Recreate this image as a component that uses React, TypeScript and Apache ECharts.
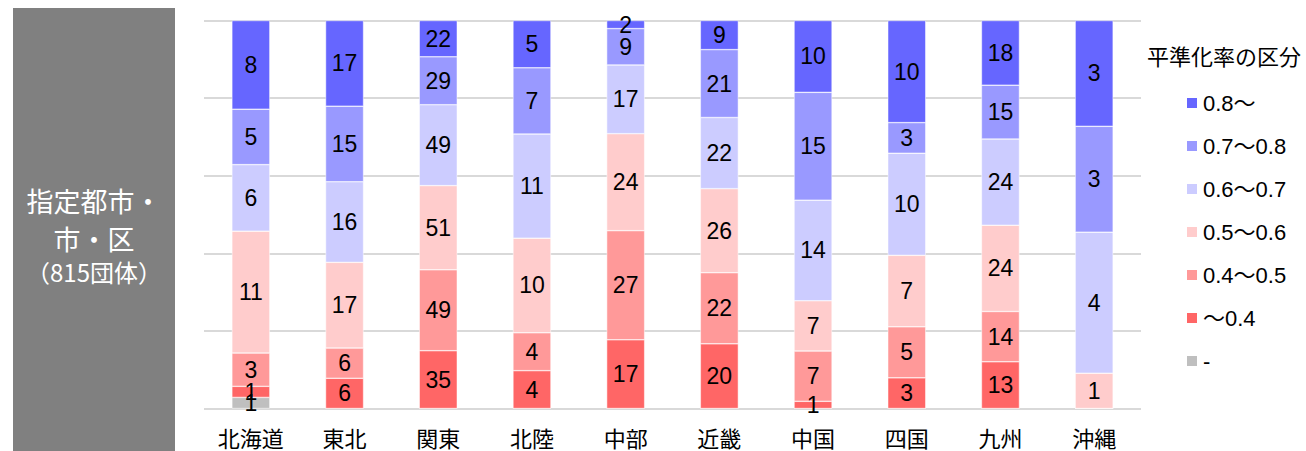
import React, { useEffect, useRef } from "react";
import * as echarts from "echarts";

const categories = ["北海道", "東北", "関東", "北陸", "中部", "近畿", "中国", "四国", "九州", "沖縄"];
const seriesNames = ["-", "～0.4", "0.4～0.5", "0.5～0.6", "0.6～0.7", "0.7～0.8", "0.8～"];
const seriesColors = ["#bfbfbf", "#ff6666", "#ff9999", "#ffcccc", "#ccccff", "#9999ff", "#6666ff"];

const dash = [1, 0, 0, 0, 0, 0, 0, 0, 0, 0];
const under04 = [1, 6, 35, 4, 17, 20, 1, 3, 13, 0];
const r04to05 = [3, 6, 49, 4, 27, 22, 7, 5, 14, 0];
const r05to06 = [11, 17, 51, 10, 24, 26, 7, 7, 24, 1];
const r06to07 = [6, 16, 49, 11, 17, 22, 14, 10, 24, 4];
const r07to08 = [5, 15, 29, 7, 9, 21, 15, 3, 15, 3];
const over08 = [8, 17, 22, 5, 2, 9, 10, 10, 18, 3];

const seriesValues = [dash, under04, r04to05, r05to06, r06to07, r07to08, over08];

const FONT = "Liberation Sans, Arial, Noto Sans CJK JP, sans-serif";
const CJK = "Noto Sans CJK JP, Liberation Sans, sans-serif";

export default function App() {
  const ref = useRef<HTMLDivElement>(null);
  useEffect(() => {
    document.body.style.margin = "0";
    if (!ref.current) return;
    const chart = echarts.init(ref.current, null, { renderer: "svg" });
    const totals = categories.map((_, i) => seriesValues.reduce((s, arr) => s + arr[i], 0));
    const series = seriesNames.map((name, si) => ({
      name,
      type: "bar",
      stack: "total",
      barWidth: 38,
      itemStyle: { color: seriesColors[si], borderColor: "#ffffff", borderWidth: 0.5 },
      label: {
        show: true,
        position: "inside",
        color: "#000",
        fontSize: 23,
        fontFamily: FONT,
        formatter: (p: any) => {
          const v = seriesValues[si][p.dataIndex];
          return v > 0 ? String(v) : "";
        },
      },
      data: categories.map((_, i) => (seriesValues[si][i] / totals[i]) * 100),
    }));
    chart.setOption({
      animation: false,
      grid: { left: 204, right: 165, top: 20.5, bottom: 42.5 },
      xAxis: {
        type: "category",
        data: categories,
        axisLine: { show: false },
        axisTick: { show: false },
        axisLabel: { color: "#000", fontSize: 22, lineHeight: 22, fontFamily: CJK, margin: 17 },
      },
      yAxis: {
        type: "value",
        min: 0,
        max: 100,
        interval: 20,
        axisLabel: { show: false },
        axisLine: { show: false },
        axisTick: { show: false },
        splitLine: { lineStyle: { color: "#d9d9d9", width: 2 } },
      },
      legend: {
        orient: "vertical",
        left: 1185,
        top: 92,
        padding: 0,
        icon: "rect",
        itemWidth: 12,
        itemHeight: 12,
        itemGap: 21,
        data: [...seriesNames].reverse(),
        textStyle: { color: "#000", fontSize: 22, lineHeight: 21, fontFamily: FONT },
      },
      graphic: [
        { type: "rect", shape: { x: 13, y: 8, width: 162, height: 443 }, style: { fill: "#808080" } },
        {
          type: "text",
          x: 94,
          y: 200,
          style: { text: "指定都市・", fill: "#fff", font: `27px ${CJK}`, textAlign: "center", textVerticalAlign: "middle" },
        },
        {
          type: "text",
          x: 94,
          y: 238,
          style: { text: "市・区", fill: "#fff", font: `27px ${CJK}`, textAlign: "center", textVerticalAlign: "middle" },
        },
        {
          type: "text",
          x: 94,
          y: 271,
          style: { text: "（815団体）", fill: "#fff", font: `24px ${CJK}`, textAlign: "center", textVerticalAlign: "middle" },
        },
        {
          type: "text",
          x: 1147,
          y: 55,
          style: { text: "平準化率の区分", fill: "#000", font: `22px ${CJK}`, textAlign: "left", textVerticalAlign: "middle" },
        },
      ],
      series,
    });
    return () => chart.dispose();
  }, []);
  return <div ref={ref} style={{ width: 1306, height: 451 }} />;
}
